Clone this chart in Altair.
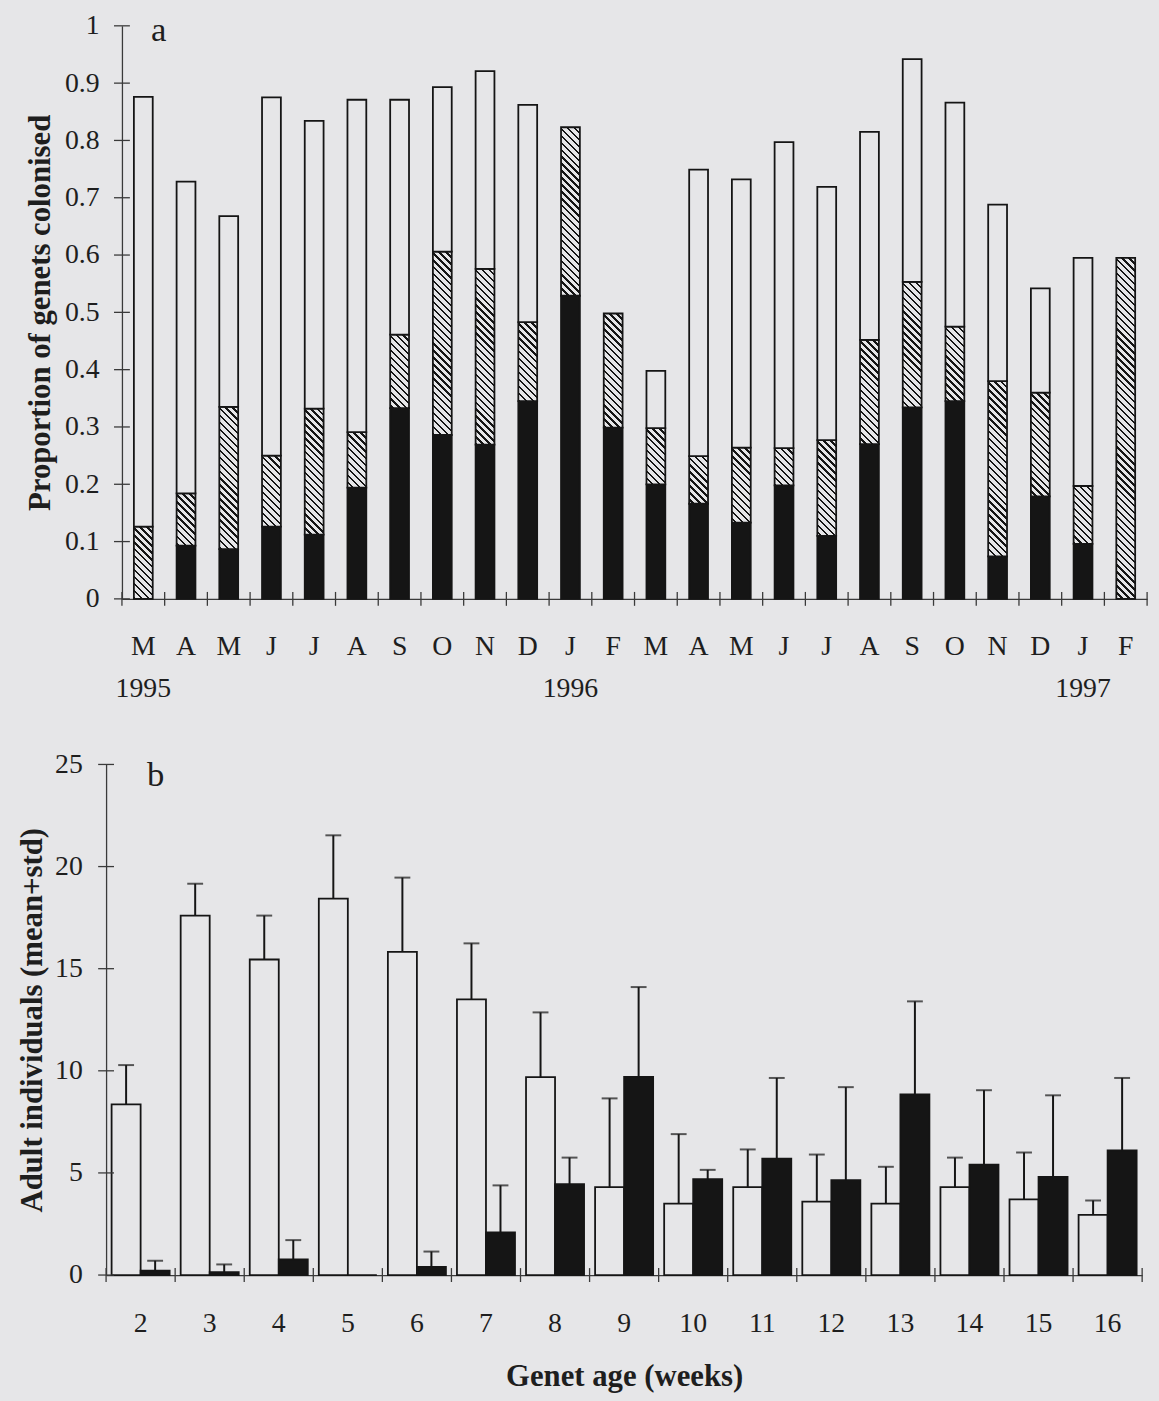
import math
import altair as alt

# ---------------- Panel a data ----------------
MONTHS = ["M", "A", "M", "J", "J", "A", "S", "O", "N", "D", "J", "F",
          "M", "A", "M", "J", "J", "A", "S", "O", "N", "D", "J", "F"]
YEAR_LABELS = ["1995", "", "", "", "", "", "", "", "", "", "1996", "",
               "", "", "", "", "", "", "", "", "", "", "1997", ""]
BLACK = [0.0, 0.093, 0.087, 0.126, 0.112, 0.194, 0.333, 0.286, 0.269, 0.345, 0.529, 0.299,
         0.200, 0.166, 0.133, 0.198, 0.110, 0.270, 0.334, 0.345, 0.074, 0.179, 0.096, 0.0]
HATCH_TOP = [0.126, 0.184, 0.335, 0.250, 0.332, 0.291, 0.461, 0.606, 0.576, 0.483, 0.823, 0.498,
             0.298, 0.249, 0.264, 0.263, 0.277, 0.452, 0.553, 0.475, 0.380, 0.360, 0.197, 0.595]
TOTAL = [0.876, 0.728, 0.668, 0.875, 0.834, 0.871, 0.871, 0.893, 0.921, 0.862, 0.823, 0.498,
         0.398, 0.749, 0.732, 0.797, 0.719, 0.815, 0.942, 0.866, 0.688, 0.542, 0.595, 0.595]
YTICKS_A = [0, 0.1, 0.2, 0.3, 0.4, 0.5, 0.6, 0.7, 0.8, 0.9, 1]

# ---------------- Panel b data ----------------
AGES = [2, 3, 4, 5, 6, 7, 8, 9, 10, 11, 12, 13, 14, 15, 16]
WHITE_MEAN = [8.36, 17.6, 15.45, 18.43, 15.82, 13.5, 9.69, 4.3, 3.5, 4.3, 3.6, 3.5, 4.3, 3.7, 2.95]
WHITE_TOP = [10.28, 19.16, 17.6, 21.53, 19.46, 16.24, 12.86, 8.65, 6.9, 6.15, 5.9, 5.3, 5.75, 6.0, 3.65]
BLACK_MEAN = [0.21, 0.14, 0.77, 0.0, 0.40, 2.09, 4.45, 9.7, 4.7, 5.7, 4.65, 8.85, 5.4, 4.8, 6.1]
BLACK_TOP = [0.70, 0.52, 1.71, 0.0, 1.15, 4.39, 5.75, 14.1, 5.15, 9.65, 9.2, 13.4, 9.05, 8.8, 9.65]
YTICKS_B = [0, 5, 10, 15, 20, 25]

# ---------------- style ----------------
BG = "#e6e6e8"
INK = "#151515"
AXIS_INK = "#3a3a3a"
TXT = "#1e1e1e"
SERIF = "Liberation Serif"

W_A, H_A = 1034, 578
W_B, H_B = 1045, 515
BAR_W = 19
TICK = 7
LEFT = 8           # page x where the layout bounds start
PLOT_A_X = 123     # page x of panel a's plot area (shared column origin)
SHIFT_B = 16       # panel b's axis sits this many px left of the shared origin


def hatch_gradient(w, h, period=7.0, dark=2.4):
    """Diagonal hatching emulated by a hard-stop linear gradient."""
    L = w + h
    a = L / (w * w + h * h)
    stops = [{"offset": 0, "color": BG}]
    k = math.floor(-w / period) - 1
    while True:
        c = k * period
        if c > h:
            break
        t1 = max(0.0, min(1.0, (c + w) / L))
        t2 = max(0.0, min(1.0, (c + dark + w) / L))
        if t2 > t1:
            stops += [{"offset": round(t1, 5), "color": BG},
                      {"offset": round(t1, 5), "color": INK},
                      {"offset": round(t2, 5), "color": INK},
                      {"offset": round(t2, 5), "color": BG}]
        k += 1
    stops.append({"offset": 1, "color": BG})
    return {"gradient": "linear", "x1": 1, "y1": 0,
            "x2": round(1 - a * w, 6), "y2": round(a * h, 6), "stops": stops}


seg_rows = []
for i in range(len(MONTHS)):
    for kind, lo, hi in (("black", 0.0, BLACK[i]),
                         ("hatch", BLACK[i], HATCH_TOP[i]),
                         ("white", HATCH_TOP[i], TOTAL[i])):
        if hi - lo <= 1e-9:
            continue
        if kind == "black":
            fill = INK
        elif kind == "white":
            fill = BG
        else:
            fill = hatch_gradient(BAR_W, (hi - lo) * H_A)
        seg_rows.append({"i": i, "lo": lo, "hi": hi, "fill": fill})

month_rows = [{"i": i, "m": m, "yr": y} for i, (m, y) in enumerate(zip(MONTHS, YEAR_LABELS))]
month_expr = "[" + ",".join('"%s"' % m for m in MONTHS) + "][datum.value]"

x_scale_a = alt.Scale(domain=list(range(len(MONTHS))), paddingInner=0, paddingOuter=0)
y_scale_a = alt.Scale(domain=[0, 1], nice=False, zero=True)

AX_A_X = alt.Axis(title=None, labelExpr=month_expr, labelAngle=0,
                  ticks=False, tickSize=0,
                  domainColor=AXIS_INK, domainWidth=1.3,
                  labelFont=SERIF, labelFontSize=28, labelColor=TXT,
                  labelPadding=34, labelBaseline="top",
                  labelAlign="center", grid=False)
AX_A_Y = alt.Axis(values=YTICKS_A, format="~g", grid=False,
                  title="Proportion of genets colonised",
                  titleFont=SERIF, titleFontWeight="bold", titleFontSize=31,
                  titleColor=TXT, titleAngle=270, titleX=-73, titleY=H_A / 2,
                  titleAlign="center", titleBaseline="alphabetic",
                  ticks=False, tickSize=0,
                  domainColor=AXIS_INK, domainWidth=1.3,
                  labelFont=SERIF, labelFontSize=28, labelColor=TXT,
                  labelPadding=23)

a_bars = alt.Chart(alt.Data(values=seg_rows)).mark_bar(
    size=BAR_W, stroke=INK, strokeWidth=1.8
).encode(
    x=alt.X("i:O", scale=x_scale_a, axis=AX_A_X),
    y=alt.Y("hi:Q", scale=y_scale_a, axis=AX_A_Y),
    y2=alt.Y2("lo:Q"),
    fill=alt.Fill("fill:N", scale=None, legend=None),
)

a_years = alt.Chart(alt.Data(values=month_rows)).transform_filter(
    "datum.yr != ''"
).mark_text(font=SERIF, fontSize=28, color=TXT, align="center", baseline="alphabetic").encode(
    x=alt.X("i:O", scale=x_scale_a, axis=AX_A_X),
    y=alt.value(H_A + 99),
    text="yr:N",
)

a_xt = alt.Chart(alt.Data(values=[{"i": k} for k in range(len(MONTHS))])).mark_rule(
    color=AXIS_INK, strokeWidth=1.3
).encode(x=alt.X("i:O", bandPosition=0, scale=x_scale_a, axis=AX_A_X),
         y=alt.value(H_A - TICK), y2=alt.value(H_A + TICK))
a_xt_end = alt.Chart(alt.Data(values=[{"i": len(MONTHS) - 1}])).mark_rule(
    color=AXIS_INK, strokeWidth=1.3
).encode(x=alt.X("i:O", bandPosition=1, scale=x_scale_a, axis=AX_A_X),
         y=alt.value(H_A - TICK), y2=alt.value(H_A + TICK))
a_yt = alt.Chart(alt.Data(values=[{"hi": v} for v in YTICKS_A])).mark_rule(
    color=AXIS_INK, strokeWidth=1.3
).encode(y=alt.Y("hi:Q", scale=y_scale_a, axis=AX_A_Y), x=alt.value(-8), x2=alt.value(8))
a_lab = alt.Chart(alt.Data(values=[{"t": "a"}])).mark_text(
    font=SERIF, fontSize=35, color=TXT, align="center", baseline="alphabetic"
).encode(text="t:N", x=alt.value(37), y=alt.value(15))
a_pad = alt.Chart(alt.Data(values=[{"z": 0}])).mark_rule(strokeOpacity=0).encode(
    x=alt.value(LEFT - PLOT_A_X), x2=alt.value(LEFT - PLOT_A_X + 1),
    y=alt.value(200), y2=alt.value(201))

panel_a = alt.layer(a_bars, a_years, a_xt, a_xt_end, a_yt, a_lab, a_pad).properties(
    width=W_A, height=H_A)

# ---------------- Panel b ----------------
b_rows = []
for k, age in enumerate(AGES):
    b_rows.append({"age": age, "s": "white", "mean": WHITE_MEAN[k], "top": WHITE_TOP[k]})
    b_rows.append({"age": age, "s": "black", "mean": BLACK_MEAN[k], "top": BLACK_TOP[k]})
err_rows = [r for r in b_rows if r["top"] > r["mean"]]

x_scale_b = alt.Scale(domain=AGES, paddingInner=0, paddingOuter=0,
                      range=[-SHIFT_B, W_B - SHIFT_B])
xo_scale_b = alt.Scale(domain=["white", "black"], paddingInner=0, paddingOuter=0.19)
y_scale_b = alt.Scale(domain=[0, 25], nice=False, zero=True)

AX_B_X = alt.Axis(title="Genet age (weeks)", labelAngle=0,
                  ticks=False, tickSize=0,
                  domainColor=AXIS_INK, domainWidth=1.3,
                  labelFont=SERIF, labelFontSize=28, labelColor=TXT,
                  labelPadding=35, labelBaseline="top", grid=False,
                  titleFont=SERIF, titleFontWeight="bold", titleFontSize=31,
                  titleColor=TXT, titleX=(W_B / 2 - SHIFT_B), titleY=111,
                  titleBaseline="alphabetic")
AX_B_Y = alt.Axis(values=YTICKS_B, grid=False, offset=SHIFT_B,
                  title="Adult individuals (mean+std)",
                  titleFont=SERIF, titleFontWeight="bold", titleFontSize=31,
                  titleColor=TXT, titleAngle=270, titleX=-65, titleY=H_B / 2,
                  titleAlign="center", titleBaseline="alphabetic",
                  ticks=False, tickSize=0,
                  domainColor=AXIS_INK, domainWidth=1.3,
                  labelFont=SERIF, labelFontSize=28, labelColor=TXT,
                  labelPadding=24)

b_bars = alt.Chart(alt.Data(values=b_rows)).mark_bar(stroke=INK, strokeWidth=1.8).encode(
    x=alt.X("age:O", scale=x_scale_b, axis=AX_B_X),
    xOffset=alt.XOffset("s:N", scale=xo_scale_b),
    y=alt.Y("mean:Q", scale=y_scale_b, axis=AX_B_Y),
    fill=alt.Fill("s:N", scale=alt.Scale(domain=["white", "black"], range=[BG, INK]), legend=None),
)

b_err = alt.Chart(alt.Data(values=err_rows)).mark_rule(color=INK, strokeWidth=2).encode(
    x=alt.X("age:O", scale=x_scale_b, axis=AX_B_X),
    xOffset=alt.XOffset("s:N", scale=xo_scale_b),
    y=alt.Y("mean:Q", scale=y_scale_b, axis=AX_B_Y),
    y2=alt.Y2("top:Q"),
)
b_cap = alt.Chart(alt.Data(values=err_rows)).mark_tick(
    color=INK, thickness=2, size=16, orient="horizontal"
).encode(
    x=alt.X("age:O", scale=x_scale_b, axis=AX_B_X),
    xOffset=alt.XOffset("s:N", scale=xo_scale_b),
    y=alt.Y("top:Q", scale=y_scale_b, axis=AX_B_Y),
)
b_xt = alt.Chart(alt.Data(values=[{"age": a} for a in AGES])).mark_rule(
    color=AXIS_INK, strokeWidth=1.3
).encode(x=alt.X("age:O", bandPosition=0, scale=x_scale_b, axis=AX_B_X),
         y=alt.value(H_B - TICK), y2=alt.value(H_B + TICK))
b_xt_end = alt.Chart(alt.Data(values=[{"age": AGES[-1]}])).mark_rule(
    color=AXIS_INK, strokeWidth=1.3
).encode(x=alt.X("age:O", bandPosition=1, scale=x_scale_b, axis=AX_B_X),
         y=alt.value(H_B - TICK), y2=alt.value(H_B + TICK))
b_yt = alt.Chart(alt.Data(values=[{"mean": v} for v in YTICKS_B])).mark_rule(
    color=AXIS_INK, strokeWidth=1.3
).encode(y=alt.Y("mean:Q", scale=y_scale_b, axis=AX_B_Y),
         x=alt.value(-SHIFT_B - 8), x2=alt.value(-SHIFT_B + 8))
b_lab = alt.Chart(alt.Data(values=[{"t": "b"}])).mark_text(
    font=SERIF, fontSize=35, color=TXT, align="center", baseline="alphabetic"
).encode(text="t:N", x=alt.value(50 - SHIFT_B), y=alt.value(22))

panel_b = alt.layer(b_bars, b_err, b_cap, b_xt, b_xt_end, b_yt, b_lab).properties(
    width=W_B - SHIFT_B, height=H_B)

chart = alt.vconcat(panel_a, panel_b, spacing=48).properties(
    background=BG,
    padding={"left": LEFT, "top": 6, "right": 1, "bottom": 5},
).configure_view(stroke=None)

chart.save("out.html", embed_options={"renderer": "svg", "actions": False})
